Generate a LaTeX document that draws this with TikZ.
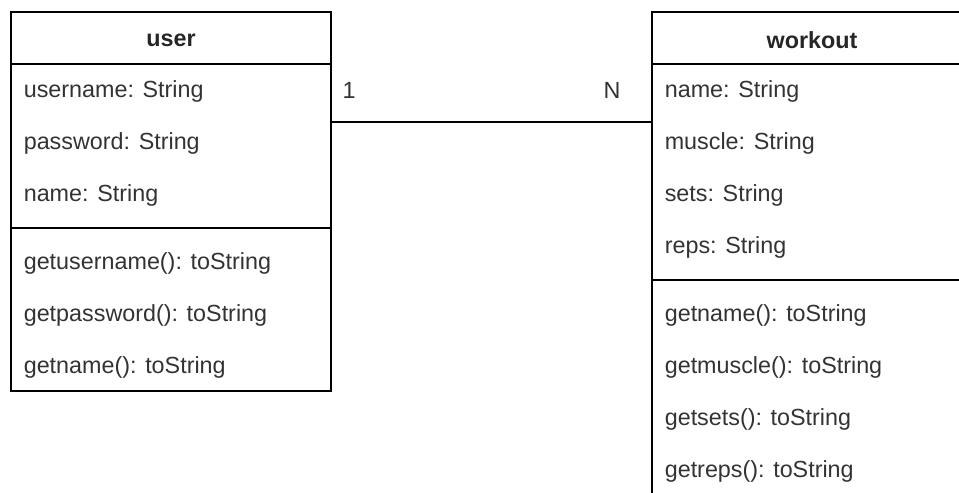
\documentclass[tikz,border=0pt]{standalone}
\usepackage{fontspec}
\setmainfont{Liberation Sans}
\usetikzlibrary{positioning}

\tikzset{
  classbox/.style={draw, rectangle, inner sep=0, outer sep=0, minimum width=240pt},
  classname/.style={font=\fontsize{17.5}{21}\selectfont\bfseries, text=black!85, yshift=-1.5pt},
  member/.style={anchor=west, font=\fontsize{17.5}{21}\selectfont, text=black!80, text height=0.75em, text depth=0.25em, inner sep=0, yshift=-3pt},
  multiplicity/.style={font=\fontsize{17.5}{21}\selectfont, text=black!80, inner sep=0}
}

\begin{document}
\begin{tikzpicture}[x=0.75pt, y=-0.75pt, line width=1.2pt]
\useasboundingbox (0,0) rectangle (959,492);
\clip (0,0) rectangle (959,492);
\node[classbox, minimum height=284.25pt] (user) at (171,201.5) {};
\node[classbox, minimum height=363pt] (workout) at (812,254) {};
\draw (11,64) -- (331,64);
\draw (11,228) -- (331,228);
\draw (652,64) -- (972,64);
\draw (652,280) -- (972,280);
\node[classname] (usertitle) at (171,38) {user};
\node[member] (username) at (23,90) {username: String};
\node[member] (password) at (23,142) {password: String};
\node[member] (uname) at (23,194) {name: String};
\node[member] (getusername) at (23,262) {getusername(): toString};
\node[member] (getpassword) at (23,314) {getpassword(): toString};
\node[member] (getuname) at (23,366) {getname(): toString};
\node[classname] (workouttitle) at (812,38) {workout};
\node[member] (wname) at (664,90) {name: String};
\node[member] (muscle) at (664,142) {muscle: String};
\node[member] (sets) at (664,194) {sets: String};
\node[member] (reps) at (664,246) {reps: String};
\node[member] (getwname) at (664,314) {getname(): toString};
\node[member] (getmuscle) at (664,366) {getmuscle(): toString};
\node[member] (getsets) at (664,418) {getsets(): toString};
\node[member] (getreps) at (664,470) {getreps(): toString};
\coordinate (userlink) at (331,122);
\coordinate (workoutlink) at (652,122);
\draw (userlink) -- (workoutlink);
\node[multiplicity] (one) at (349,90) {1};
\node[multiplicity] (many) at (612,90) {N};
\end{tikzpicture}
\end{document}
